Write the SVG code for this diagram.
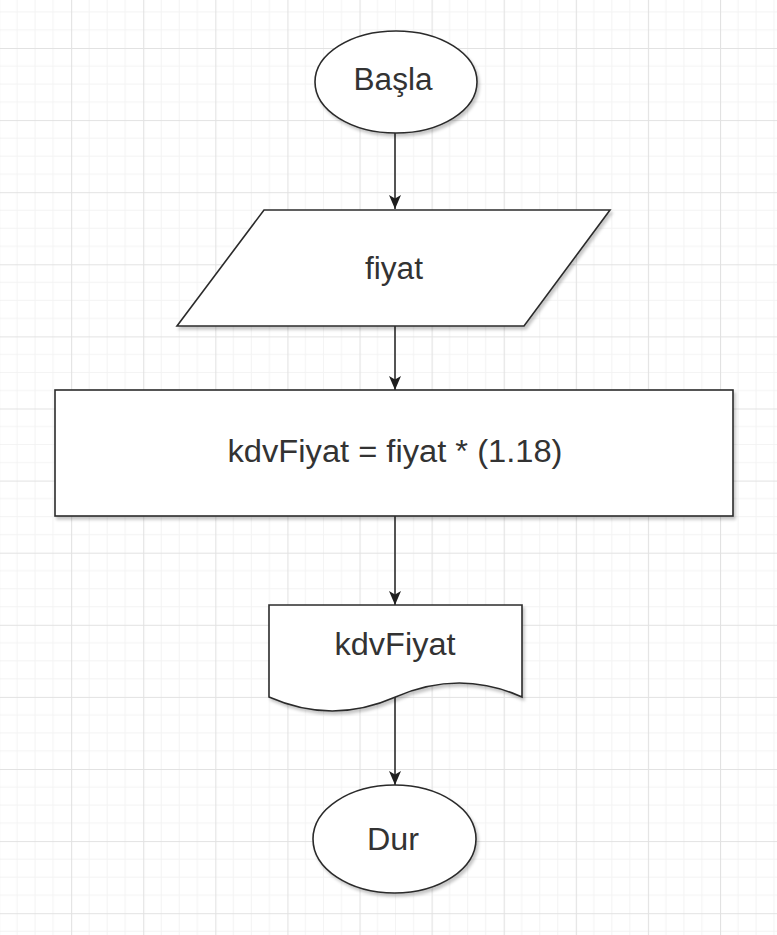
<svg xmlns="http://www.w3.org/2000/svg" width="777" height="935" viewBox="0 0 777 935">
<style>
.shape{fill:#ffffff;stroke:#2b2b2b;stroke-width:1.6;filter:url(#sh)}
.lbl{font-family:"Liberation Sans",Arial,sans-serif;font-size:31px;fill:#333333;text-anchor:middle}
.edge{stroke:#2b2b2b;stroke-width:1.6;fill:none;marker-end:url(#arr)}
</style>
<defs>
<pattern id="grid" patternUnits="userSpaceOnUse" x="-1" y="-24.1" width="72.1" height="72.1">
<path d="M18.025,0V72.1M36.05,0V72.1M54.075,0V72.1M0,18.025H72.1M0,36.05H72.1M0,54.075H72.1" stroke="#f3f3f3" stroke-width="1"/>
<path d="M0.5,0V72.1M0,0.5H72.1" stroke="#e2e2e2" stroke-width="1.2"/>
</pattern>
<filter id="sh" x="-10%" y="-10%" width="125%" height="130%">
<feDropShadow dx="2" dy="3" stdDeviation="1.5" flood-color="#000" flood-opacity="0.22"/>
</filter>
<marker id="arr" viewBox="0 0 14 12" refX="14" refY="6" markerWidth="14" markerHeight="12" markerUnits="userSpaceOnUse" orient="auto">
<path d="M0,0 L14,6 L0,12 L3.5,6 Z" fill="#1e1e1e"/>
</marker>
</defs>
<rect x="0" y="0" width="777" height="935" fill="#ffffff"/>
<rect x="0" y="0" width="777" height="935" fill="url(#grid)"/>
<g id="edges">
<path class="edge" d="M395,133 V209"/>
<path class="edge" d="M395,326 V390"/>
<path class="edge" d="M395,516 V605"/>
<path class="edge" d="M395,697 V785"/>
</g>
<g id="basla">
<ellipse class="shape" cx="396" cy="82" rx="81" ry="51"/>
<text class="lbl" x="393" y="90" textLength="79" lengthAdjust="spacingAndGlyphs">Başla</text>
</g>
<g id="fiyat">
<polygon class="shape" points="264,210 610,210 524,326 177,326"/>
<text class="lbl" x="394" y="279" textLength="58" lengthAdjust="spacingAndGlyphs">fiyat</text>
</g>
<g id="hesap">
<rect class="shape" x="55" y="390" width="678" height="126"/>
<text class="lbl" x="395" y="462" textLength="335" lengthAdjust="spacingAndGlyphs">kdvFiyat = fiyat * (1.18)</text>
</g>
<g id="cikti">
<path class="shape" d="M269,605 L522,605 L522,697 Q459.75,669.1 395.5,697 Q332.25,724.9 269,697 Z"/>
<text class="lbl" x="395" y="655" textLength="121" lengthAdjust="spacingAndGlyphs">kdvFiyat</text>
</g>
<g id="dur">
<ellipse class="shape" cx="394.5" cy="839" rx="81.5" ry="54"/>
<text class="lbl" x="393" y="850" textLength="52" lengthAdjust="spacingAndGlyphs">Dur</text>
</g>
</svg>
